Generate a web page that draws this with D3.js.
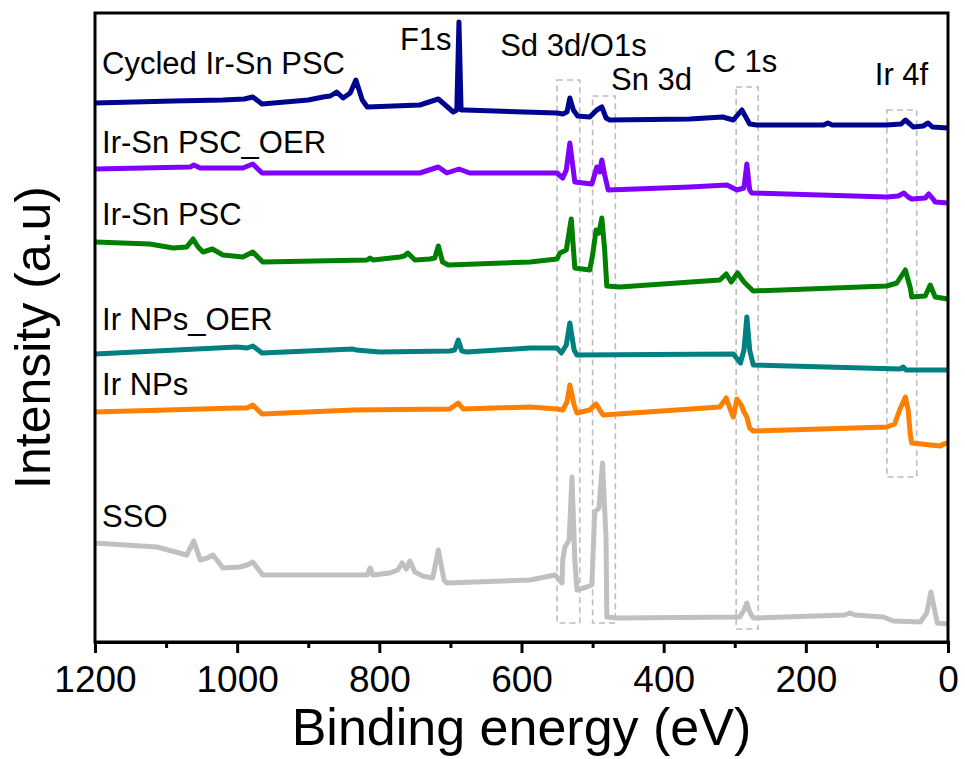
<!DOCTYPE html>
<html lang="en">
<head>
  <meta charset="UTF-8">
  <title>XPS survey spectra</title>
  <script src="https://d3js.org/d3.v7.min.js"></script>
  <style>
    body {
      margin: 0;
      padding: 0;
      background: #fff;
    }
    svg {
      display: block;
      font-family: "Liberation Sans", Arial, sans-serif;
    }
    .trace {
      fill: none;
      stroke-width: 5;
      stroke-linejoin: round;
    }
    .box {
      fill: none;
      stroke: #bdbdbd;
      stroke-width: 1.6;
      stroke-dasharray: 6 4;
    }
  </style>
</head>
<body>
  <svg width="965" height="759"></svg>

  <script>
    // [binding energy (eV), intensity (a.u.)]
    const cycledIrSnPSC = [
      [1200, 540], [1090, 542], [1020, 543], [990, 544], [978, 546], [965, 539], [900, 543],
      [879, 546], [869, 547], [860, 551], [851, 545], [841, 550], [833, 563], [824, 543],
      [817, 536], [743, 538], [717, 544], [696, 531], [691, 533], [688, 621], [685, 533],
      [680, 533], [550, 530], [542, 529], [536, 531], [532, 545], [527, 533], [521, 527],
      [504, 526], [494, 533], [487, 536], [481, 525], [476, 523], [363, 524], [317, 526],
      [302, 523], [290, 533], [279, 519], [269, 518], [175, 518], [169, 520], [163, 518],
      [86, 518], [66, 519], [60, 523], [52, 518], [49, 516], [35, 517], [28, 520], [22, 516], [0, 515]
    ];
    const irSnPSC_OER = [
      [1200, 474], [1066, 476], [1061, 478], [1052, 475], [992, 475], [978, 479], [965, 470],
      [743, 470], [717, 476], [705, 470], [688, 474], [673, 470], [550, 470], [542, 465],
      [537, 473], [532, 500], [528, 478], [525, 461], [501, 459], [494, 476], [490, 471],
      [487, 483], [483, 468], [478, 453], [363, 456], [311, 458], [297, 453], [287, 455],
      [283, 479], [279, 453], [276, 450], [86, 446], [70, 447], [62, 450], [56, 446], [51, 444],
      [32, 445], [27, 449], [21, 444], [18, 441], [0, 440]
    ];
    const irSnPSC = [
      [1200, 401], [1123, 399], [1090, 395], [1071, 396], [1062, 404], [1055, 396], [1048, 391],
      [1035, 394], [1020, 388], [992, 386], [978, 391], [964, 381], [817, 383], [813, 385],
      [809, 383], [771, 386], [765, 387], [760, 390], [750, 383], [729, 384], [722, 385],
      [717, 397], [711, 381], [703, 378], [588, 381], [550, 384], [546, 390], [537, 393],
      [530, 424], [525, 375], [504, 373], [500, 388], [495, 413], [491, 410], [487, 425],
      [483, 393], [480, 357], [462, 356], [321, 363], [312, 369], [305, 361], [296, 370],
      [287, 361], [274, 352], [86, 357], [72, 360], [60, 373], [53, 355], [51, 346], [32, 347],
      [25, 358], [18, 346], [0, 344]
    ];
    const irNPs_OER = [
      [1200, 289], [1000, 296], [986, 295], [978, 297], [965, 290], [837, 294], [833, 293],
      [799, 291], [701, 292], [694, 293], [689, 303], [684, 292], [677, 291], [588, 295],
      [550, 295], [544, 290], [537, 298], [532, 320], [526, 293], [522, 288], [302, 289],
      [292, 280], [287, 293], [283, 326], [279, 293], [274, 278], [68, 274], [63, 276],
      [59, 273], [0, 273]
    ];
    const irNPs = [
      [1200, 231], [1000, 235], [986, 235], [978, 238], [965, 229], [837, 233], [701, 234],
      [689, 240], [682, 234], [588, 236], [550, 234], [542, 233], [536, 241], [532, 258],
      [526, 238], [522, 230], [504, 233], [500, 236], [495, 239], [490, 233], [485, 228],
      [321, 236], [317, 240], [312, 245], [305, 231], [302, 226], [297, 244], [291, 238],
      [287, 231], [283, 226], [279, 215], [274, 212], [86, 216], [75, 219], [68, 233],
      [60, 246], [56, 233], [53, 208], [51, 200], [11, 197], [6, 199], [0, 200]
    ];
    const sso = [
      [1200, 100], [1113, 96], [1071, 88], [1061, 102], [1052, 83], [1042, 85], [1034, 88],
      [1020, 75], [996, 76], [986, 78], [978, 81], [964, 68], [817, 68], [813, 75], [809, 68],
      [785, 70], [774, 73], [768, 80], [762, 74], [757, 82], [750, 71], [739, 67], [725, 65],
      [717, 93], [709, 63], [705, 60], [588, 63], [553, 68], [543, 60], [542, 83], [539, 96],
      [533, 103], [529, 166], [525, 83], [522, 53], [508, 56], [501, 58], [497, 131], [491, 135],
      [486, 180], [481, 103], [480, 26], [466, 25], [293, 26], [287, 33], [283, 40], [279, 31],
      [274, 25], [145, 28], [138, 30], [131, 28], [91, 26], [77, 22], [39, 21], [30, 30],
      [24, 51], [18, 30], [15, 20], [0, 19]
    ];

    const seriesNames = ["Cycled Ir-Sn PSC", "Ir-Sn PSC_OER", "Ir-Sn PSC", "Ir NPs_OER", "Ir NPs", "SSO"];
    const seriesData = [cycledIrSnPSC, irSnPSC_OER, irSnPSC, irNPs_OER, irNPs, sso];
    const seriesColors = ["#00058f", "#8000ff", "#008000", "#008080", "#ff8000", "#c0c0c0"];

    // peak regions: [high eV, low eV, top intensity, bottom intensity]
    const peakBoxes = [
      [550, 518, 563, 20],
      [500, 468, 547, 20],
      [298, 267, 556, 14],
      [86, 44, 533, 166]
    ];
    const peakNames = ["F1s", "Sd 3d/O1s", "Sn 3d", "C 1s", "Ir 4f"];
    const peakLabelAt = [[771, 593], [630, 587], [474, 553], [330, 571], [103, 558]];

    const majorTicks = [1200, 1000, 800, 600, 400, 200, 0];
    const minorTicks = [1100, 900, 700, 500, 300, 100];

    const margin = {left: 95, right: 17, top: 12, bottom: 116};
    const width = 965, height = 759;

    const svg = d3.select("svg");

    const x = d3.scaleLinear().domain([1200, 0]).range([margin.left, width - margin.right]);
    const y = d3.scaleLinear().domain([0, 631]).range([height - margin.bottom, margin.top]);

    const line = d3.line()
      .x(d => x(d[0]))
      .y(d => y(d[1]));

    // dashed boxes behind the traces
    svg.append("g")
      .selectAll("rect")
      .data(peakBoxes)
      .enter().append("rect")
      .attr("class", "box")
      .attr("x", d => x(d[0]))
      .attr("y", d => y(d[2]))
      .attr("width", d => x(d[1]) - x(d[0]))
      .attr("height", d => y(d[3]) - y(d[2]));

    // spectra, drawn bottom one first
    svg.append("g")
      .selectAll("path")
      .data(d3.range(seriesData.length).reverse())
      .enter().append("path")
      .attr("class", "trace")
      .attr("stroke", i => seriesColors[i])
      .attr("d", i => line(seriesData[i]));

    // series labels sit just above the start of each trace
    const labelOffsets = [29, 16, 17, 24, 17, 16];
    svg.append("g")
      .selectAll("text")
      .data(seriesNames)
      .enter().append("text")
      .attr("x", x(1190))
      .attr("y", (d, i) => y(seriesData[i][0][1]) - labelOffsets[i])
      .attr("font-size", 31)
      .attr("fill", "#000")
      .text(d => d);

    // peak labels
    svg.append("g")
      .selectAll("text")
      .data(peakNames)
      .enter().append("text")
      .attr("x", (d, i) => x(peakLabelAt[i][0]))
      .attr("y", (d, i) => y(peakLabelAt[i][1]))
      .attr("font-size", 31)
      .attr("fill", "#000")
      .text(d => d);

    // frame
    svg.append("rect")
      .attr("x", x(1200))
      .attr("y", y(631) + 1)
      .attr("width", x(0) - x(1200))
      .attr("height", y(0) - y(631) - 2)
      .attr("fill", "none")
      .attr("stroke", "#000")
      .attr("stroke-width", 3);

    // bottom axis
    const xAxis = d3.axisBottom(x)
      .tickValues(majorTicks)
      .tickSize(11)
      .tickPadding(13)
      .tickFormat(d3.format("d"));

    const axisG = svg.append("g")
      .attr("transform", `translate(0,${y(0) - 1})`)
      .call(xAxis);
    axisG.select(".domain").attr("stroke-width", 3);
    axisG.selectAll(".tick line").attr("stroke-width", 3);
    axisG.selectAll(".tick text")
      .attr("font-size", 37)
      .attr("font-family", "'Liberation Sans', Arial, sans-serif")
      .attr("fill", "#000");

    const minorAxis = d3.axisBottom(x)
      .tickValues(minorTicks)
      .tickSize(6)
      .tickFormat("");
    const minorG = svg.append("g")
      .attr("transform", `translate(0,${y(0) - 1})`)
      .call(minorAxis);
    minorG.select(".domain").remove();
    minorG.selectAll(".tick line").attr("stroke-width", 3);

    // axis titles
    svg.append("text")
      .attr("x", (x(1200) + x(0)) / 2)
      .attr("y", 745)
      .attr("text-anchor", "middle")
      .attr("font-size", 52)
      .attr("fill", "#000")
      .text("Binding energy (eV)");

    svg.append("text")
      .attr("transform", `translate(50,${(margin.top + height - margin.bottom) / 2 + 10}) rotate(-90)`)
      .attr("text-anchor", "middle")
      .attr("font-size", 50)
      .attr("fill", "#000")
      .text("Intensity (a.u)");
  </script>
</body>
</html>
